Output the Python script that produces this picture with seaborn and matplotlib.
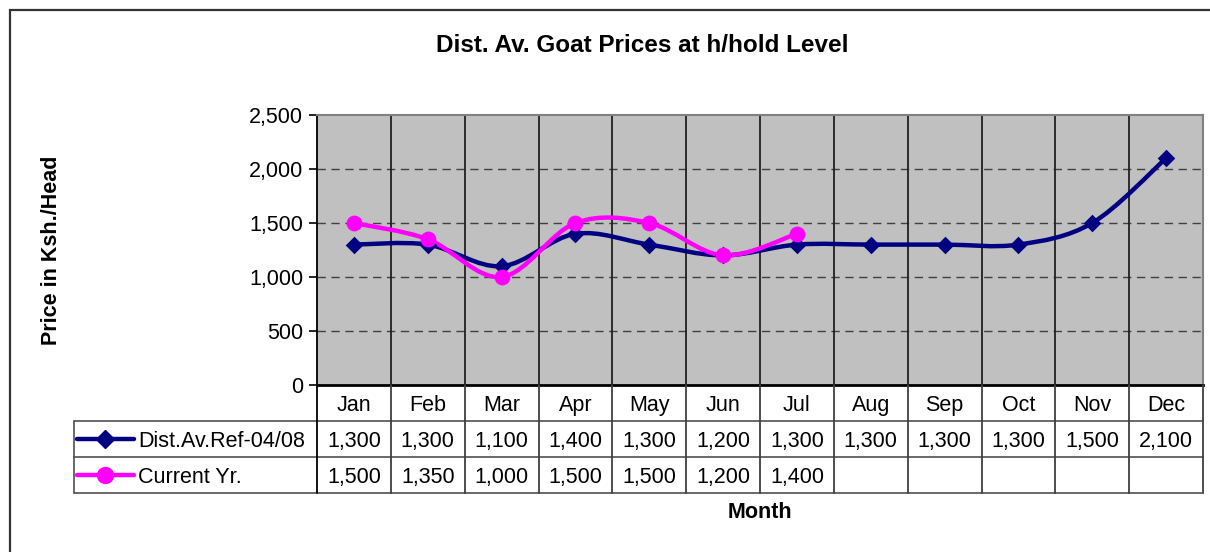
import numpy as np
import pandas as pd
import matplotlib.pyplot as plt
import matplotlib.patches as mpatches
from matplotlib.path import Path
from matplotlib.lines import Line2D
from matplotlib.ticker import StrMethodFormatter
import seaborn as sns

# Data
months = ['Jan', 'Feb', 'Mar', 'Apr', 'May', 'Jun', 'Jul', 'Aug', 'Sep', 'Oct', 'Nov', 'Dec']
ref_label = 'Dist.Av.Ref-04/08'
cur_label = 'Current Yr.'
ref_prices = [1300, 1300, 1100, 1400, 1300, 1200, 1300, 1300, 1300, 1300, 1500, 2100]
cur_prices = [1500, 1350, 1000, 1500, 1500, 1200, 1400]
y_ticks = [0, 500, 1000, 1500, 2000, 2500]

NAVY = '#000080'
MAGENTA = '#FF00FF'
W, H = 1210, 552
FS = 15.5


def smooth_path(xs, ys):
    # Excel-style smoothed line: cubic Bezier segments through the data points
    pts = np.column_stack([xs, ys]).astype(float)
    n = len(pts)
    verts = [pts[0]]
    codes = [Path.MOVETO]
    for i in range(n - 1):
        p0, p1 = pts[max(i - 1, 0)], pts[i]
        p2, p3 = pts[i + 1], pts[min(i + 2, n - 1)]
        verts += [p1 + (p2 - p0) / 6, p2 - (p3 - p1) / 6, p2]
        codes += [Path.CURVE4] * 3
    return Path(verts, codes)


sns.set_style("white")
plt.rcParams['font.family'] = ['Liberation Sans', 'DejaVu Sans']
plt.rcParams['text.color'] = 'black'
plt.rcParams['ytick.color'] = 'black'
plt.rcParams['ytick.labelcolor'] = 'black'

fig = plt.figure(figsize=(W / 100, H / 100), dpi=100)

# Plot area
ax = fig.add_axes([317 / W, 1 - 385 / H, 886 / W, 270 / H])
ax.set_facecolor('#C0C0C0')
ax.set_xlim(-0.5, len(months) - 0.5)
ax.set_ylim(y_ticks[0], y_ticks[-1])
ax.set_yticks(y_ticks)
ax.yaxis.set_major_formatter(StrMethodFormatter('{x:,.0f}'))
ax.set_xticks([])
ax.tick_params(axis='y', direction='out', length=6, width=1.2, color='black',
               labelcolor='black', labelsize=FS, pad=4, left=True)
for y in y_ticks[1:-1]:
    ax.axhline(y, color='#404040', lw=1, ls=(0, (6, 4)), zorder=1)
for k in range(1, len(months)):
    ax.axvline(k - 0.5, color='#202020', lw=1.3, zorder=1)

df_ref = pd.DataFrame({'x': range(len(ref_prices)), 'y': ref_prices})
df_cur = pd.DataFrame({'x': range(len(cur_prices)), 'y': cur_prices})

ax.add_patch(mpatches.PathPatch(smooth_path(df_ref['x'], df_ref['y']), fill=False,
                                edgecolor=NAVY, lw=3.2, zorder=3, capstyle='round'))
ax.add_patch(mpatches.PathPatch(smooth_path(df_cur['x'], df_cur['y']), fill=False,
                                edgecolor=MAGENTA, lw=3.2, zorder=4, capstyle='round'))
sns.scatterplot(data=df_ref, x='x', y='y', marker='D', s=80, color=NAVY,
                edgecolor=NAVY, linewidth=0, ax=ax, zorder=5, clip_on=False)
sns.scatterplot(data=df_cur, x='x', y='y', marker='o', s=130, color=MAGENTA,
                edgecolor=MAGENTA, linewidth=0, ax=ax, zorder=6, clip_on=False)
ax.set_xlabel('')
ax.set_ylabel('')

for side in ['top', 'right']:
    ax.spines[side].set_color('#808080')
    ax.spines[side].set_linewidth(1.5)
ax.spines['left'].set_color('black')
ax.spines['left'].set_linewidth(1.3)
ax.spines['bottom'].set_color('black')
ax.spines['bottom'].set_linewidth(2)

# Data table below the plot
col_w = 886 / len(months)
tax = fig.add_axes([74 / W, 1 - 493 / H, (1203 - 74) / W, 108 / H])
x_left = -0.5 - (317 - 74) / col_w
x_right = len(months) - 0.5
tax.set_xlim(x_left, x_right)
tax.set_ylim(3, 0)
tax.axis('off')


def px(p):
    return -0.5 + (p - 317) / col_w


line_kw = dict(color='#505050', lw=1.2, clip_on=False)
for r in [1, 2, 3]:
    tax.plot([x_left, x_right], [r, r], **line_kw)
tax.plot([x_left, x_left], [1, 3], **line_kw)
for k in range(len(months) + 1):
    c = 'black' if k == 0 else '#404040'
    tax.plot([k - 0.5, k - 0.5], [0, 3], color=c, lw=1.3, clip_on=False)

cell_kw = dict(ha='center', va='center_baseline', fontsize=FS, color='black')
for i, m in enumerate(months):
    tax.text(i, 0.5, m, **cell_kw)
for i, v in enumerate(ref_prices):
    tax.text(i, 1.5, f'{v:,}', **cell_kw)
for i, v in enumerate(cur_prices):
    tax.text(i, 2.5, f'{v:,}', **cell_kw)

# legend keys inside the table
for row, (lab, col, mk, ms) in enumerate([(ref_label, NAVY, 'D', 9), (cur_label, MAGENTA, 'o', 11.5)]):
    yy = row + 1.5
    tax.add_line(Line2D([px(77), px(134)], [yy, yy], color=col, lw=3.2, solid_capstyle='round'))
    tax.add_line(Line2D([px(105)], [yy], color=col, marker=mk, markersize=ms, lw=0))
    tax.text(px(138), yy, lab, ha='left', va='center_baseline', fontsize=FS, color='black')

# Titles
fig.text(642 / W, 1 - 45 / H, 'Dist. Av. Goat Prices at h/hold Level',
         ha='center', va='center', fontsize=17.5, fontweight='bold', color='black')
fig.text(52 / W, 1 - 250 / H, 'Price in Ksh./Head', rotation=90,
         ha='center', va='center', fontsize=15.5, fontweight='bold', color='black')
fig.text(760 / W, 1 - 513 / H, 'Month', ha='center', va='center',
         fontsize=15.5, fontweight='bold', color='black')

# chart area border (left and top visible)
fig.add_artist(mpatches.Rectangle((10 / W, -0.5), 2, 0.5 + 1 - 10 / H, fill=False,
                                  edgecolor='#333333', lw=1.6, transform=fig.transFigure))

fig.savefig('out.png', dpi=100)
